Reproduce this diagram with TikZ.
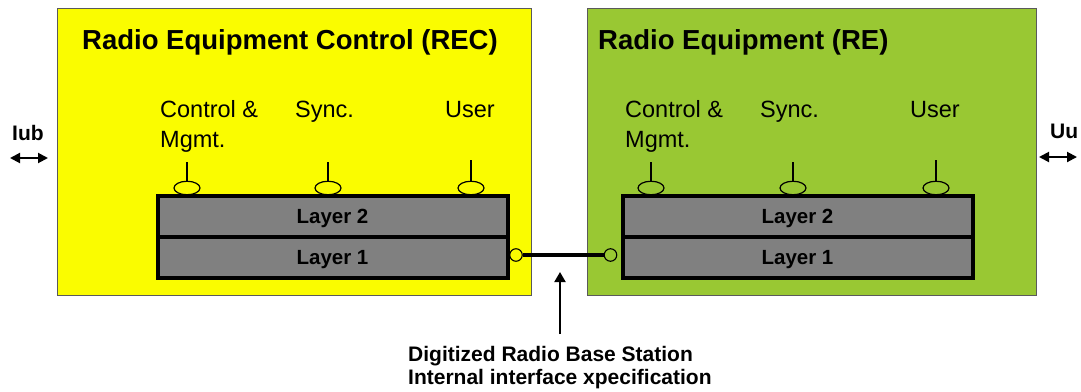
\documentclass[tikz,border=0pt]{standalone}
\usepackage{fontspec}
\setmainfont{Liberation Sans}
\usetikzlibrary{arrows.meta,shapes.geometric}
\definecolor{recyellow}{RGB}{250,252,0}
\definecolor{regreen}{RGB}{153,200,51}
\definecolor{layergray}{RGB}{128,128,128}
\definecolor{edgegray}{RGB}{90,90,90}
\tikzset{
  unitbox/.style={draw=edgegray, line width=0.8pt, inner sep=0pt, anchor=north west,
    minimum width=#1, minimum height=287},
  layerbox/.style={draw=black, fill=layergray, line width=4pt, inner sep=0pt, text depth=0pt,
    minimum width=350, minimum height=41, font=\fontsize{20.5}{24}\selectfont\bfseries},
  sap/.style={ellipse, draw=black, line width=1.2pt, inner sep=0pt, minimum width=26, minimum height=13.5},
  stem/.style={line width=1.2pt},
  port/.style={circle, draw=black, line width=1.1pt, inner sep=0pt, minimum size=12.5},
  titletext/.style={anchor=base west, inner sep=0pt, font=\fontsize{27.5}{32}\selectfont\bfseries},
  labeltext/.style={anchor=base west, inner sep=0pt, font=\fontsize{23.5}{28}\selectfont},
  boldtext/.style={anchor=base west, inner sep=0pt, font=\fontsize{21}{23}\selectfont\bfseries},
  biarrow/.style={{Triangle[length=10pt,width=10pt]}-{Triangle[length=10pt,width=10pt]}, line width=2pt},
}
\begin{document}
\begin{tikzpicture}[x=1pt,y=-1pt]
\useasboundingbox (0,0) rectangle (1081,391);

% unit boxes
\node[unitbox=474, fill=recyellow] (rec) at (57,8) {};
\node[unitbox=449, fill=regreen] (re) at (587,8) {};

% titles
\node[titletext] (rectitle) at (82,49) {Radio Equipment Control (REC)};
\node[titletext] (retitle) at (598,49) {Radio Equipment (RE)};

% REC labels
\node[labeltext] (reccm) at (160,117) {Control \&};
\node[labeltext] (recmg) at (160,147) {Mgmt.};
\node[labeltext] (recsy) at (295,117) {Sync.};
\node[labeltext] (recus) at (445,117) {User};

% RE labels
\node[labeltext] (recm) at (625,117) {Control \&};
\node[labeltext] (remg) at (625,147) {Mgmt.};
\node[labeltext] (resy) at (760,117) {Sync.};
\node[labeltext] (reus) at (910,117) {User};

% layer boxes
\node[layerbox] (recl2) at (332.5,216.5) {Layer 2};
\node[layerbox] (recl1) at (332.5,257) {Layer 1};
\node[layerbox] (rel2) at (797.5,216.5) {Layer 2};
\node[layerbox] (rel1) at (797.5,257) {Layer 1};

% service access points
\node[sap] (recs1) at (187,188) {};
\node[sap] (recs2) at (328,188) {};
\node[sap] (recs3) at (471,188) {};
\node[sap] (res1) at (651,188) {};
\node[sap] (res2) at (793,188) {};
\node[sap] (res3) at (936,188) {};
\coordinate (recs1t) at (187,162);
\coordinate (recs2t) at (328,162);
\coordinate (recs3t) at (471,160);
\coordinate (res1t) at (651,162);
\coordinate (res2t) at (793,162);
\coordinate (res3t) at (936,160);
\draw[stem] (recs1.north) -- (recs1t);
\draw[stem] (recs2.north) -- (recs2t);
\draw[stem] (recs3.north) -- (recs3t);
\draw[stem] (res1.north) -- (res1t);
\draw[stem] (res2.north) -- (res2t);
\draw[stem] (res3.north) -- (res3t);

% ports and link
\node[port] (recport) at (516,255) {};
\node[port] (report) at (610.5,255) {};
\draw[line width=4pt] (recport.east) -- (report.west);

% interface pointer
\coordinate (ptrtip) at (560,272);
\coordinate (ptrtail) at (560,334);
\draw[line width=2pt, -{Triangle[length=10pt,width=11pt]}] (ptrtail) -- (ptrtip);
\node[boldtext] (dig1) at (408,361) {Digitized Radio Base Station};
\node[boldtext] (dig2) at (408,384) {Internal interface xpecification};

% external interfaces
\node[boldtext] (iub) at (12,140) {Iub};
\coordinate (iubl) at (10,158);
\coordinate (iubr) at (48,158);
\draw[biarrow] (iubl) -- (iubr);
\node[boldtext] (uu) at (1050,138) {Uu};
\coordinate (uul) at (1039,157);
\coordinate (uur) at (1077,157);
\draw[biarrow] (uul) -- (uur);
\end{tikzpicture}
\end{document}
